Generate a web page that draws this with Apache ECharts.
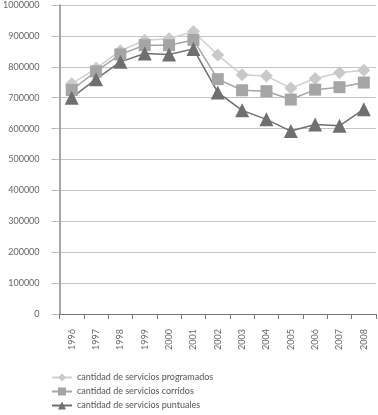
<!DOCTYPE html>
<html>
<head>
<meta charset="utf-8">
<script src="https://cdn.jsdelivr.net/npm/echarts@6/dist/echarts.min.js"></script>
<style>
  html, body { margin: 0; padding: 0; background: #fff; }
  #chart { width: 378px; height: 415px; }
</style>
</head>
<body>
<div id="chart"></div>
<script>
const years = ["1996", "1997", "1998", "1999", "2000", "2001", "2002", "2003", "2004", "2005", "2006", "2007", "2008"];
const programados = [745000, 795000, 852000, 886000, 891000, 914000, 838000, 774000, 770000, 731000, 762000, 781000, 789000];
const corridos = [725000, 785000, 840000, 870000, 870000, 887000, 760000, 724000, 721000, 694000, 726000, 734000, 749000];
const puntuales = [700000, 760000, 816000, 843000, 840000, 858000, 717000, 659000, 630000, 592000, 613000, 609000, 663000];

const names = [
  "cantidad de servicios programados",
  "cantidad de servicios corridos",
  "cantidad de servicios puntuales"
];

const chart = echarts.init(document.getElementById("chart"));

const font = "Lato, 'Open Sans', sans-serif";

const option = {
  animation: false,
  grid: { left: 53, right: 2, top: 5, bottom: 101 },
  legend: {
    orient: "vertical",
    left: 51,
    top: 373,
    padding: 0,
    height: 42,
    itemWidth: 20,
    itemHeight: 10,
    itemGap: 5,
    textStyle: { fontFamily: font, fontSize: 9, color: "#555" },
    data: names
  },
  xAxis: {
    type: "category",
    data: years,
    boundaryGap: true,
    axisLine: { lineStyle: { color: "#777", width: 1 } },
    axisTick: { show: true, length: 5, alignWithLabel: false, lineStyle: { color: "#777" } },
    axisLabel: { rotate: 90, fontFamily: font, fontSize: 9, color: "#666", margin: 15 }
  },
  yAxis: {
    type: "value",
    min: 0,
    max: 1000000,
    interval: 100000,
    axisLine: { show: true, lineStyle: { color: "#888", width: 1.5 } },
    axisTick: { show: true, length: 8, lineStyle: { color: "#bbb" } },
    axisLabel: { fontFamily: font, fontSize: 9, color: "#666", margin: 20, formatter: (v) => String(v) },
    splitLine: { lineStyle: { color: "#c4c4c4", width: 1 } }
  },
  series: [
    {
      name: names[0],
      type: "line",
      data: programados,
      symbol: "diamond",
      symbolSize: 13,
      itemStyle: { color: "#c9c9c9" },
      lineStyle: { color: "#cfcfcf", width: 1.5 }
    },
    {
      name: names[1],
      type: "line",
      data: corridos,
      symbol: "rect",
      symbolSize: 12,
      itemStyle: { color: "#a5a5a5" },
      lineStyle: { color: "#a5a5a5", width: 1.5 }
    },
    {
      name: names[2],
      type: "line",
      data: puntuales,
      symbol: "triangle",
      symbolSize: 14,
      itemStyle: { color: "#6f6f6f" },
      lineStyle: { color: "#6f6f6f", width: 1.5 }
    }
  ]
};

chart.setOption(option);
</script>
</body>
</html>
